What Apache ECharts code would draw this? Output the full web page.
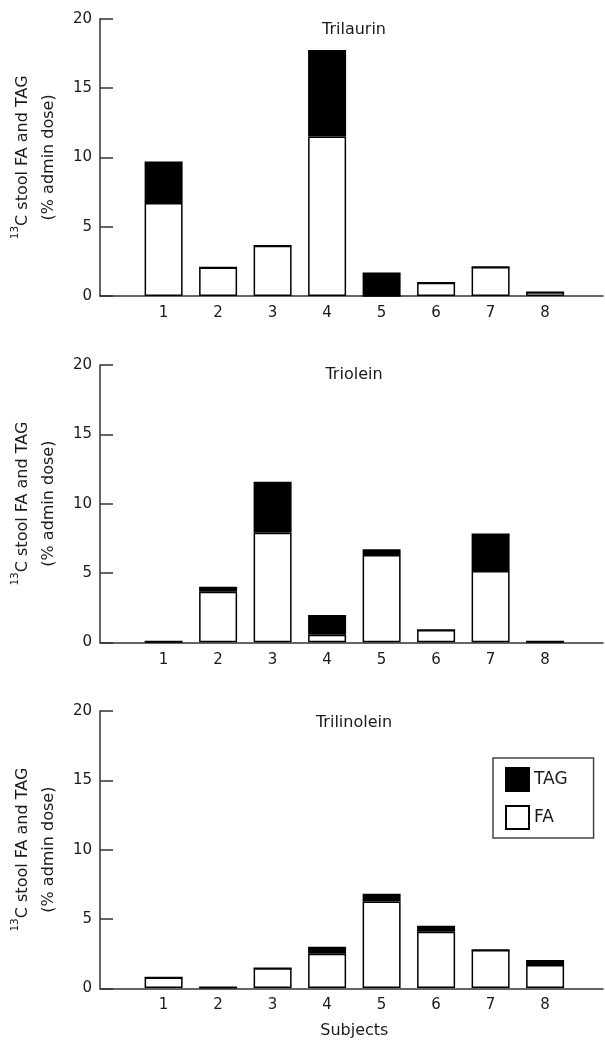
<!DOCTYPE html>
<html>
<head>
<meta charset="utf-8">
<script src="https://cdn.jsdelivr.net/npm/echarts@6/dist/echarts.min.js"></script>
<style>
  html,body{margin:0;padding:0;background:#fff;}
  #main{width:605px;height:1040px;}
</style>
</head>
<body>
<div id="main"></div>
<script>
var subjects = ['1', '2', '3', '4', '5', '6', '7', '8'];
var panelTitles = ['Trilaurin', 'Triolein', 'Trilinolein'];
// FA (white, bottom) and TAG (black, top) per subject
var trilaurinFA  = [6.7, 2.05, 3.63, 11.5, 0, 0.96, 2.09, 0.27];
var trilaurinTAG = [3.0, 0, 0, 6.25, 1.7, 0, 0, 0];
var trioleinFA   = [0.05, 3.65, 7.9, 0.55, 6.3, 0.89, 5.14, 0.05];
var trioleinTAG  = [0, 0.36, 3.68, 1.42, 0.41, 0, 2.7, 0];
var trilinoFA    = [0.75, 0.05, 1.42, 2.48, 6.25, 4.06, 2.74, 1.66];
var trilinoTAG   = [0, 0, 0, 0.5, 0.55, 0.44, 0, 0.36];

var panelFA = [trilaurinFA, trioleinFA, trilinoFA];
var panelTAG = [trilaurinTAG, trioleinTAG, trilinoTAG];
var gridTops = [18.7, 365, 711];
var gridH = 277.3;
var axisCol = '#333';
var txtCol = '#1a1a1a';
var font = 'DejaVu Sans';

var grids = [], xAxes = [], yAxes = [], series = [], titles = [];
for(var p=0;p<3;p++){
  var ga = 2*p, gb = 2*p+1;
  // frame grid: the long axis lines, y ticks and labels
  grids.push({left:100, right:2, top:gridTops[p], height:gridH});
  // bar grid: eight subject slots
  grids.push({left:136.35, width:436, top:gridTops[p], height:gridH});
  titles.push({
    text: panelTitles[p],
    left: 354,
    textAlign: 'center',
    top: gridTops[p] + (p==0 ? 3 : (p==1 ? 2 : 4)),
    padding: 0,
    textStyle:{fontFamily:font, fontSize:16, fontWeight:'normal', color:txtCol}
  });
  xAxes.push({
    type:'value', gridIndex:ga, min:0, max:1,
    splitLine:{show:false}, axisTick:{show:false}, axisLabel:{show:false},
    axisLine:{show:true, onZero:false, lineStyle:{color:axisCol, width:1.5}}
  });
  xAxes.push({
    type:'category', gridIndex:gb, data:subjects,
    axisLine:{show:false}, axisTick:{show:false},
    axisLabel:{margin:10, fontFamily:font, fontSize:15, color:txtCol},
    name: p==2 ? 'Subjects' : '',
    nameLocation:'middle', nameGap:35,
    nameTextStyle:{fontFamily:font, fontSize:16, color:txtCol}
  });
  yAxes.push({
    type:'value', gridIndex:ga, min:0, max:20, interval:5,
    splitLine:{show:false},
    axisLine:{show:true, lineStyle:{color:axisCol, width:1.5}},
    axisTick:{show:true, inside:true, length:13, lineStyle:{color:axisCol, width:1.5}},
    axisLabel:{margin:8, fontFamily:font, fontSize:15, color:txtCol},
    name:'{sup|13}{m|C stool FA and TAG}\n{m|(% admin dose)}',
    nameLocation:'middle', nameGap:31, nameRotate:90,
    nameTextStyle:{
      fontFamily:font, fontSize:16, color:txtCol, lineHeight:26,
      rich:{
        sup:{fontFamily:font, fontSize:10.5, color:txtCol, verticalAlign:'top', lineHeight:26, padding:[0,0,8,0]},
        m:{fontFamily:font, fontSize:16, color:txtCol, lineHeight:26}
      }
    }
  });
  yAxes.push({
    type:'value', gridIndex:gb, min:0, max:20, show:false
  });
  series.push({
    name:'FA', type:'bar', xAxisIndex:gb, yAxisIndex:gb, stack:'s'+p,
    barWidth:38, data:panelFA[p],
    itemStyle:{color:'#fff', borderColor:'#000', borderWidth:1.5},
    emphasis:{disabled:true}
  });
  series.push({
    name:'TAG', type:'bar', xAxisIndex:gb, yAxisIndex:gb, stack:'s'+p,
    barWidth:38, data:panelTAG[p],
    itemStyle:{color:'#000', borderColor:'#000', borderWidth:1.5},
    emphasis:{disabled:true}
  });
}

var chart = echarts.init(document.getElementById('main'), null, {renderer:'canvas'});
chart.setOption({
  animation:false,
  backgroundColor:'#fff',
  title:titles,
  grid:grids,
  xAxis:xAxes,
  yAxis:yAxes,
  legend:{
    data:['TAG','FA'],
    orient:'vertical',
    left:493, top:758,
    padding:[9,26,8,12],
    itemWidth:23, itemHeight:23, itemGap:13, itemTextGap:11,
    icon:'rect',
    borderColor:'#444', borderWidth:1.5,
    textStyle:{fontFamily:font, fontSize:17, color:txtCol},
    selectedMode:false
  },
  series:series
});
</script>
</body>
</html>
